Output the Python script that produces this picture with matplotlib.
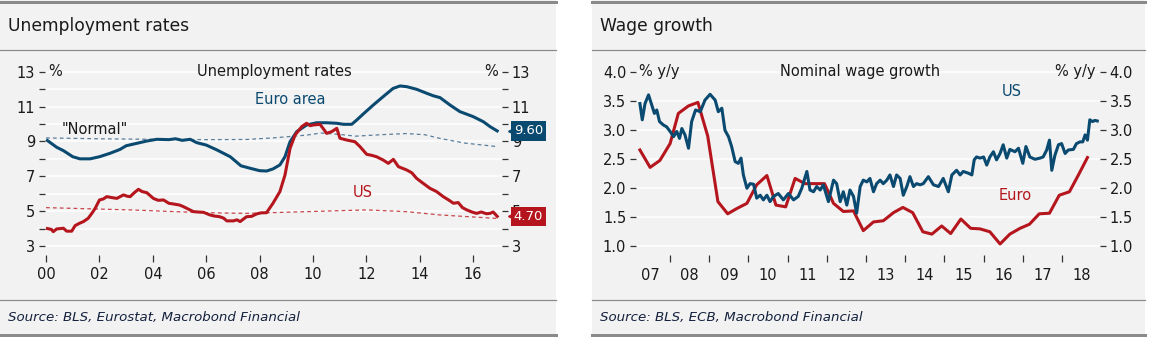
import numpy as np
import matplotlib
matplotlib.use("Agg")
import matplotlib.pyplot as plt
from matplotlib.patches import Rectangle
from matplotlib.lines import Line2D
import matplotlib.transforms as mtransforms

# ---------- data ----------
ea_years = [2000.05, 2000.4, 2000.65, 2001.0, 2001.27, 2001.65, 2002.0, 2002.4, 2002.77, 2003.0,
            2003.4, 2003.77, 2004.15, 2004.6, 2004.85, 2005.1, 2005.4, 2005.64, 2006.0, 2006.4,
            2006.9, 2007.3, 2007.64, 2008.0, 2008.26, 2008.5, 2008.76, 2008.95, 2009.14, 2009.39,
            2009.76, 2010.14, 2010.51, 2010.89, 2011.14, 2011.45, 2011.64, 2011.88, 2012.26, 2012.63,
            2013.0, 2013.26, 2013.51, 2013.88, 2014.26, 2014.5, 2014.76, 2015.13, 2015.5, 2016.0,
            2016.38, 2016.63, 2016.9]
ea_unemp = [9.05, 8.66, 8.47, 8.12, 8.0, 8.0, 8.12, 8.32, 8.54, 8.75,
            8.89, 9.02, 9.12, 9.1, 9.15, 9.06, 9.12, 8.93, 8.79, 8.51,
            8.12, 7.6, 7.46, 7.32, 7.30, 7.42, 7.65, 8.12, 8.98, 9.56,
            9.94, 10.07, 10.07, 10.04, 9.98, 9.98, 10.23, 10.57, 11.09, 11.57,
            12.04, 12.18, 12.14, 11.99, 11.76, 11.62, 11.51, 11.09, 10.71, 10.42,
            10.13, 9.85, 9.60]

us_years = [2000.05, 2000.2, 2000.27, 2000.4, 2000.55, 2000.65, 2000.77, 2000.96, 2001.09, 2001.25,
            2001.4, 2001.58, 2001.75, 2001.84, 2002.0, 2002.15, 2002.27, 2002.45, 2002.65, 2002.9,
            2003.05, 2003.15, 2003.3, 2003.46, 2003.6, 2003.77, 2004.02, 2004.2, 2004.4, 2004.6,
            2004.77, 2005.0, 2005.14, 2005.35, 2005.52, 2005.7, 2005.9, 2006.14, 2006.3, 2006.5,
            2006.65, 2006.77, 2007.02, 2007.15, 2007.27, 2007.51, 2007.7, 2007.89, 2008.05, 2008.26,
            2008.5, 2008.76, 2008.95, 2009.14, 2009.33, 2009.58, 2009.76, 2009.9, 2010.0, 2010.26,
            2010.4, 2010.51, 2010.7, 2010.89, 2011.01, 2011.26, 2011.57, 2011.76, 2012.01, 2012.2,
            2012.38, 2012.63, 2012.82, 2013.01, 2013.2, 2013.51, 2013.7, 2013.88, 2014.13, 2014.38,
            2014.63, 2014.88, 2015.1, 2015.26, 2015.44, 2015.6, 2015.76, 2015.95, 2016.13, 2016.3,
            2016.38, 2016.5, 2016.63, 2016.75, 2016.9]
us_unemp = [4.0, 3.95, 3.82, 3.98, 4.0, 4.02, 3.85, 3.85, 4.17, 4.3,
            4.4, 4.59, 4.95, 5.16, 5.64, 5.7, 5.83, 5.78, 5.73, 5.93,
            5.85, 5.83, 6.05, 6.25, 6.12, 6.06, 5.73, 5.62, 5.64, 5.45,
            5.41, 5.35, 5.26, 5.1, 4.97, 4.95, 4.93, 4.78, 4.72, 4.68,
            4.6, 4.44, 4.44, 4.5, 4.4, 4.68, 4.7, 4.84, 4.9, 4.91,
            5.45, 6.12, 7.07, 8.6, 9.37, 9.85, 10.04, 9.9, 9.94, 9.98,
            9.7, 9.46, 9.56, 9.75, 9.18, 9.08, 8.98, 8.70, 8.26, 8.2,
            8.12, 7.93, 7.74, 7.97, 7.55, 7.36, 7.2, 6.88, 6.59, 6.31,
            6.12, 5.83, 5.62, 5.45, 5.49, 5.2, 5.07, 4.95, 4.87, 4.95,
            4.91, 4.85, 4.87, 4.95, 4.70]

ea_normal_years = [2000.0, 2002.0, 2004.0, 2006.0, 2007.5, 2008.5, 2009.76, 2010.3, 2011.0, 2011.6,
                   2012.5, 2013.5, 2014.2, 2014.76, 2015.7, 2016.9]
ea_normal = [9.2, 9.15, 9.12, 9.1, 9.11, 9.2, 9.36, 9.48, 9.4, 9.3,
             9.38, 9.45, 9.38, 9.17, 8.9, 8.7]
us_normal_years = [2000.0, 2003.15, 2005.9, 2007.5, 2009.76, 2012.0, 2013.5, 2014.76, 2016.9]
us_normal = [5.2, 5.07, 4.91, 4.87, 4.97, 5.07, 4.97, 4.78, 4.58]

usw_years = [2007.23, 2007.29, 2007.36, 2007.45, 2007.53, 2007.6, 2007.66, 2007.73, 2007.83, 2007.91,
             2008.0, 2008.09, 2008.17, 2008.24, 2008.3, 2008.38, 2008.47, 2008.55, 2008.65, 2008.77,
             2008.89, 2009.02, 2009.15, 2009.23, 2009.32, 2009.4, 2009.49, 2009.57, 2009.66, 2009.74,
             2009.81, 2009.87, 2009.96, 2010.04, 2010.13, 2010.21, 2010.3, 2010.38, 2010.47, 2010.55,
             2010.64, 2010.76, 2010.89, 2011.02, 2011.15, 2011.27, 2011.36, 2011.49, 2011.57, 2011.66,
             2011.74, 2011.83, 2011.91, 2012.04, 2012.17, 2012.25, 2012.34, 2012.42, 2012.51, 2012.59,
             2012.68, 2012.76, 2012.85, 2012.93, 2013.02, 2013.10, 2013.19, 2013.27, 2013.36, 2013.44,
             2013.53, 2013.61, 2013.7, 2013.78, 2013.87, 2013.95, 2014.04, 2014.12, 2014.21, 2014.29,
             2014.38, 2014.46, 2014.59, 2014.72, 2014.85, 2014.97, 2015.1, 2015.19, 2015.31, 2015.4,
             2015.48, 2015.61, 2015.7, 2015.76, 2015.82, 2015.91, 2016.0, 2016.08, 2016.16, 2016.25,
             2016.33, 2016.42, 2016.5, 2016.59, 2016.67, 2016.8, 2016.89, 2017.0, 2017.08, 2017.18,
             2017.31, 2017.44, 2017.52, 2017.61, 2017.68, 2017.74, 2017.82, 2017.91, 2017.99, 2018.08,
             2018.16, 2018.29, 2018.37, 2018.46, 2018.53, 2018.59, 2018.65, 2018.71, 2018.78, 2018.84,
             2018.9]
usw_growth = [3.45, 3.17, 3.45, 3.60, 3.43, 3.28, 3.34, 3.14, 3.08, 3.05,
              2.97, 2.88, 2.97, 2.85, 3.02, 2.91, 2.68, 3.14, 3.34, 3.31,
              3.51, 3.61, 3.51, 3.31, 3.37, 2.99, 2.88, 2.71, 2.45, 2.42,
              2.51, 2.22, 1.99, 2.07, 2.06, 1.82, 1.87, 1.79, 1.87, 1.76,
              1.85, 1.90, 1.79, 1.90, 1.79, 1.85, 1.99, 2.28, 1.96, 1.93,
              2.02, 1.96, 2.05, 1.76, 2.13, 2.07, 1.76, 1.93, 1.70, 1.96,
              1.85, 1.56, 2.02, 2.13, 2.10, 2.16, 1.93, 2.07, 2.13, 2.07,
              2.13, 2.22, 2.02, 2.22, 2.16, 1.87, 2.02, 2.19, 2.02, 2.07,
              2.05, 2.07, 2.19, 2.05, 2.02, 2.16, 1.93, 2.22, 2.30, 2.22,
              2.28, 2.25, 2.22, 2.48, 2.53, 2.51, 2.53, 2.39, 2.53, 2.62,
              2.48, 2.59, 2.74, 2.51, 2.66, 2.62, 2.68, 2.42, 2.71, 2.53,
              2.49, 2.51, 2.53, 2.65, 2.82, 2.30, 2.56, 2.74, 2.76, 2.59,
              2.65, 2.66, 2.76, 2.79, 2.79, 2.91, 2.82, 3.17, 3.14, 3.16,
              3.15]

euw_years = [2007.23, 2007.49, 2007.74, 2008.0, 2008.21, 2008.47, 2008.71, 2008.96, 2009.22, 2009.47,
             2009.7, 2009.96, 2010.21, 2010.47, 2010.7, 2010.95, 2011.19, 2011.44, 2011.7, 2011.94,
             2012.17, 2012.42, 2012.68, 2012.93, 2013.19, 2013.44, 2013.7, 2013.94, 2014.19, 2014.45,
             2014.68, 2014.93, 2015.16, 2015.42, 2015.67, 2015.91, 2016.16, 2016.42, 2016.67, 2016.93,
             2017.17, 2017.42, 2017.68, 2017.93, 2018.19, 2018.42, 2018.65]
euw_growth = [2.65, 2.35, 2.47, 2.76, 3.28, 3.41, 3.47, 2.89, 1.76, 1.55,
              1.64, 1.73, 2.05, 2.21, 1.70, 1.67, 2.16, 2.07, 2.07, 2.07,
              1.73, 1.59, 1.60, 1.26, 1.41, 1.43, 1.57, 1.66, 1.57, 1.24,
              1.20, 1.34, 1.21, 1.46, 1.30, 1.29, 1.24, 1.03, 1.20, 1.30,
              1.37, 1.55, 1.56, 1.87, 1.93, 2.22, 2.52]

unemp_xticks = [2000, 2002, 2004, 2006, 2008, 2010, 2012, 2014, 2016]
unemp_xlabels = ["00", "02", "04", "06", "08", "10", "12", "14", "16"]
wage_years = list(range(2007, 2019))
wage_xlabels = ["07", "08", "09", "10", "11", "12", "13", "14", "15", "16", "17", "18"]

# ---------- style ----------
BLUE = "#0b4a70"
RED = "#b5161e"
PANEL = "#f2f2f2"
TXT = "#1a1a1a"
W, H = 1153, 339
plt.rcParams['font.family'] = ['DejaVu Sans']

fig = plt.figure(figsize=(W/100, H/100), dpi=100)
fig.patch.set_facecolor("white")

def fx(x):
    return x / W

def fy(y):
    return 1 - y / H

def panel(x0, x1, title, source):
    fig.add_artist(Rectangle((fx(x0), fy(336)), fx(x1 - x0), fy(0) - fy(336),
                             transform=fig.transFigure, facecolor=PANEL, edgecolor="none", zorder=0))
    for y, lw in [(1.5, 3.0), (49.5, 1.2), (299.5, 1.2), (335, 3.0)]:
        fig.add_artist(Line2D([fx(x0), fx(x1)], [fy(y), fy(y)], transform=fig.transFigure,
                              color="#8a8a8a", lw=lw * 0.72, zorder=1))
    fig.text(fx(x0 + 8), fy(26), title, fontsize=12.3, color=TXT, va="center", ha="left")
    fig.text(fx(x0 + 8), fy(317), source, fontsize=9.6, style="italic", color="#14213d",
             va="center", ha="left")

panel(0, 556, "Unemployment rates", "Source: BLS, Eurostat, Macrobond Financial")
panel(592, 1145, "Wage growth", "Source: BLS, ECB, Macrobond Financial")

def make_ax(x0, x1, ytop, ybot):
    ax = fig.add_axes([fx(x0), fy(ybot), fx(x1 - x0), fy(ytop) - fy(ybot)])
    ax.set_facecolor("none")
    for s in ax.spines.values():
        s.set_visible(False)
    return ax

# ---------- left: unemployment ----------
ax = make_ax(45, 502, 70.8, 254.7)
ax.set_xlim(1999.96, 2017.08)
ax.set_ylim(2.5, 13.05)
for v in range(3, 14):
    ax.axhline(v, color="white", lw=1.1, zorder=1)
ax.plot(ea_normal_years, ea_normal, color="#5a7d99", lw=0.9, ls=(0, (3, 2.5)), zorder=2)
ax.plot(us_normal_years, us_normal, color="#c8464c", lw=0.9, ls=(0, (3, 2.5)), zorder=2)
ax.plot(ea_years, ea_unemp, color=BLUE, lw=2.2, zorder=3, solid_joinstyle="round")
ax.plot(us_years, us_unemp, color=RED, lw=2.2, zorder=3, solid_joinstyle="round")

ax.set_yticks(range(3, 14, 2))
ax.set_yticks(range(4, 13, 2), minor=True)
ax.set_xticks(unemp_xticks)
ax.set_xticklabels(unemp_xlabels)
ax.tick_params(axis="y", which="both", left=True, right=True, labelleft=True, labelright=True,
               length=4, width=0.9, color="#333333", labelsize=10.5, labelcolor=TXT, pad=3)
ax.tick_params(axis="x", length=5, width=0.9, color="#333333", labelsize=10.5, labelcolor=TXT, pad=4)

ax.annotate("%", xy=(0, 13), xycoords=("axes fraction", "data"), xytext=(2, 0),
            textcoords="offset points", ha="left", va="center", fontsize=10.5, color=TXT)
ax.annotate("%", xy=(1, 13), xycoords=("axes fraction", "data"), xytext=(-3, 0),
            textcoords="offset points", ha="right", va="center", fontsize=10.5, color=TXT)
ax.annotate("Unemployment rates", xy=(0.503, 13), xycoords=("axes fraction", "data"),
            ha="center", va="center", fontsize=10.5, color=TXT)
ax.text(2009.15, 11.4, "Euro area", color=BLUE, fontsize=10.5, ha="center", va="center")
ax.text(2011.85, 6.05, "US", color=RED, fontsize=10.5, ha="center", va="center")
ax.text(2001.82, 9.7, '"Normal"', color=TXT, fontsize=10.5, ha="center", va="center")

def value_box(ax, value, color, xtip, xtext):
    trans = mtransforms.blended_transform_factory(ax.transAxes, ax.transData)
    ax.plot([xtip], [value], marker="<", markersize=7, color=color, transform=trans,
            clip_on=False, zorder=9)
    ax.text(xtext, value, f"{value:.2f}", transform=trans, ha="center", va="center",
            fontsize=9.5, color="white", zorder=10, clip_on=False,
            bbox=dict(boxstyle="square,pad=0.25", facecolor=color, edgecolor="none"))

value_box(ax, ea_unemp[-1], BLUE, 1.024, 1.058)
value_box(ax, us_unemp[-1], RED, 1.024, 1.058)

# ---------- right: wage growth ----------
ax2 = make_ax(636, 1100, 70.5, 255)
ax2.set_xlim(2007.13, 2018.97)
ax2.set_ylim(0.84, 4.02)
for v in np.arange(1.0, 4.01, 0.5):
    ax2.axhline(v, color="white", lw=1.1, zorder=1)
ax2.plot(euw_years, euw_growth, color=RED, lw=2.2, zorder=3, solid_joinstyle="round")
ax2.plot(usw_years, usw_growth, color=BLUE, lw=2.2, zorder=3, solid_joinstyle="round")

ax2.set_yticks(np.arange(1.0, 4.01, 0.5))
ax2.set_yticklabels([f"{v:.1f}" for v in np.arange(1.0, 4.01, 0.5)])
ax2.set_xticks(wage_years[1:])
ax2.set_xticklabels([])
ax2.set_xticks([y + 0.5 for y in wage_years], minor=True)
ax2.set_xticklabels(wage_xlabels, minor=True)
ax2.tick_params(axis="y", left=True, right=True, labelleft=True, labelright=True,
                length=4, width=0.9, color="#333333", labelsize=10.5, labelcolor=TXT, pad=3)
ax2.tick_params(axis="x", which="major", length=5, width=0.9, color="#333333")
ax2.tick_params(axis="x", which="minor", length=0, labelsize=10.5, labelcolor=TXT, pad=9)

ax2.annotate("% y/y", xy=(0, 4.0), xycoords=("axes fraction", "data"), xytext=(2, 0),
             textcoords="offset points", ha="left", va="center", fontsize=10.5, color=TXT)
ax2.annotate("% y/y", xy=(1, 4.0), xycoords=("axes fraction", "data"), xytext=(-3, 0),
             textcoords="offset points", ha="right", va="center", fontsize=10.5, color=TXT)
ax2.annotate("Nominal wage growth", xy=(0.483, 4.0), xycoords=("axes fraction", "data"),
             ha="center", va="center", fontsize=10.5, color=TXT)
ax2.text(2016.72, 3.66, "US", color=BLUE, fontsize=10.5, ha="center", va="center")
ax2.text(2016.8, 1.86, "Euro", color=RED, fontsize=10.5, ha="center", va="center")

fig.savefig("out.png", dpi=100, facecolor=fig.get_facecolor())
